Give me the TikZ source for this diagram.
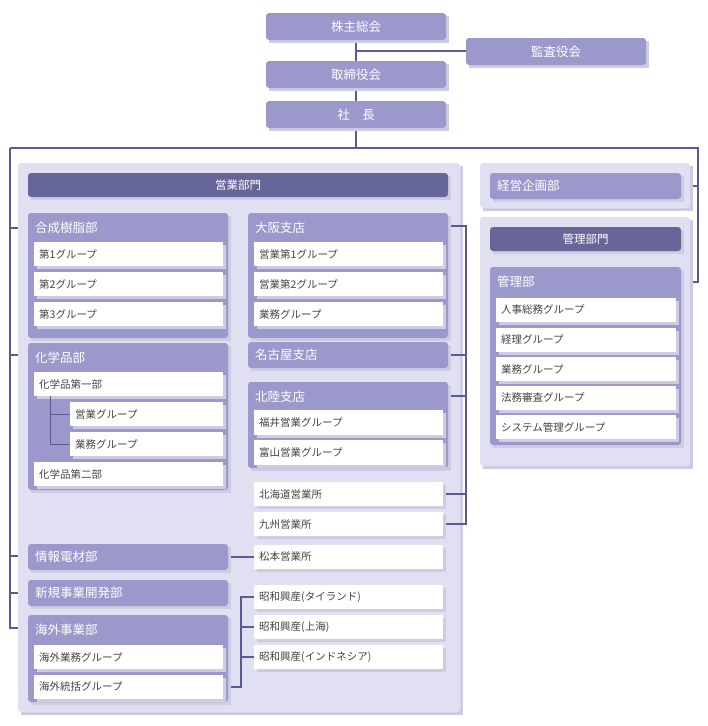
\documentclass[tikz,border=0pt]{standalone}
\usepackage{fontspec}
\setmainfont{Noto Sans CJK JP}
\definecolor{lav}{HTML}{9B99CB}
\definecolor{dark}{HTML}{676698}
\definecolor{pan}{HTML}{E0E0F2}
\definecolor{ln}{HTML}{5C5A94}
\definecolor{tx}{HTML}{444444}
\definecolor{shd}{HTML}{CDCCE2}
\tikzset{
 base/.style={anchor=north west,inner sep=0pt,outer sep=0pt},
 lavbox/.style={base,fill=lav,rounded corners=3pt},
 darkbox/.style={base,fill=dark,rounded corners=3pt},
 panel/.style={base,fill=pan,rounded corners=3pt},
 item/.style={base,fill=white},
 ttl/.style={anchor=west,text=white,font=\fontsize{12.5}{14}\selectfont,inner sep=0pt},
 itx/.style={anchor=west,text=tx,font=\fontsize{10.5}{12}\selectfont,inner sep=0pt},
 ctx/.style={text=white,font=\fontsize{12.5}{14}\selectfont,inner sep=0pt},
 conn/.style={draw=ln,line width=1.2pt}
}
\newcommand{\bx}[6]{%
 \fill[shd] ({#2+3},{#3+3}) rectangle ({#4+3},{#5+3});
 \node[#6,minimum width={(#4-#2)*1pt},minimum height={(#5-#3)*1pt}] (#1) at (#2,#3) {};}
\newcommand{\itm}[6]{% name x1 y1 x2 y2 text
 \bx{#1}{#2}{#3}{#4}{#5}{item}
 \node[itx] (#1t) at ({#2+5},{(#3+#5)/2}) {#6};}
\newcommand{\lb}[6]{% lavender box with title at ytitle
 \bx{#1}{#2}{#3}{#4}{#5}{lavbox}
 \node[ttl] (#1t) at ({#2+7},{#3+15}) {#6};}
\begin{document}
\begin{tikzpicture}[x=1pt,y=-1pt]
\useasboundingbox (0,0) rectangle (708,726);
% connectors behind
\draw[conn] (356,40) -- (356,148);
\draw[conn] (356,51) -- (470,51);
\draw[conn] (10,148) -- (698,148) -- (698,282) -- (681,282);
\draw[conn] (698,186) -- (681,186);
\draw[conn] (10,148) -- (10,628) -- (28,628);
\foreach \y in {228,355,556,593} \draw[conn] (10,\y) -- (28,\y);
% top boxes
\bx{kabu}{266}{13}{446}{40}{lavbox}\node[ctx] at (kabu) {株主総会};
\bx{kansa}{466}{38}{646}{65}{lavbox}\node[ctx] at (kansa) {監査役会};
\bx{tori}{266}{61}{446}{88}{lavbox}\node[ctx] at (tori) {取締役会};
\bx{sha}{266}{101}{446}{128}{lavbox}\node[ctx] at (sha) {社\quad 長};
% panels
\bx{pL}{18}{163}{460}{712}{panel}
\bx{pR1}{480}{163}{690}{208}{panel}
\bx{pR2}{480}{217}{690}{466}{panel}
\bx{eigyo}{28}{173}{448}{197}{darkbox}\node[ctx,font=\fontsize{11.5}{13}\selectfont] at (eigyo) {営業部門};
% inner connectors
\draw[conn] (448,226) -- (466,226) -- (466,524) -- (443,524);
\foreach \y in {355,396} \draw[conn] (448,\y) -- (466,\y);
\draw[conn] (443,494) -- (466,494);
\draw[conn] (228,557) -- (254,557);
\draw[conn] (223,687) -- (241,687) -- (241,597) -- (254,597);
\foreach \y in {627,657} \draw[conn] (241,\y) -- (254,\y);
% left column
\lb{gosei}{28}{213}{228}{338}{合成樹脂部}
\itm{g1}{34}{242}{223}{266}{第1グループ}
\itm{g2}{34}{272}{223}{296}{第2グループ}
\itm{g3}{34}{302}{223}{326}{第3グループ}
\lb{kagaku}{28}{343}{228}{490}{化学品部}
\itm{k1}{34}{372}{223}{396}{化学品第一部}
\draw[conn,line width=0.8pt] (50,396) -- (50,444) -- (70,444);
\draw[conn,line width=0.8pt] (50,414) -- (70,414);
\itm{k11}{70}{402}{223}{426}{営業グループ}
\itm{k12}{70}{432}{223}{456}{業務グループ}
\itm{k2}{34}{462}{223}{486}{化学品第二部}
\bx{joho}{28}{544}{228}{570}{lavbox}\node[ttl] at (35,557) {情報電材部};
\bx{shinki}{28}{580}{228}{606}{lavbox}\node[ttl] at (35,593) {新規事業開発部};
\lb{kaigai}{28}{615}{228}{702}{海外事業部}
\itm{ka1}{34}{645}{223}{669}{海外業務グループ}
\itm{ka2}{34}{675}{223}{699}{海外統括グループ}
% right column of sales
\lb{osaka}{248}{213}{448}{338}{大阪支店}
\itm{o1}{254}{242}{443}{266}{営業第1グループ}
\itm{o2}{254}{272}{443}{296}{営業第2グループ}
\itm{o3}{254}{302}{443}{326}{業務グループ}
\bx{nagoya}{248}{342}{448}{368}{lavbox}\node[ttl] at (255,355) {名古屋支店};
\lb{hoku}{248}{382}{448}{468}{北陸支店}
\itm{h1}{254}{410}{443}{435}{福井営業グループ}
\itm{h2}{254}{440}{443}{465}{富山営業グループ}
\itm{s1}{254}{482}{443}{506}{北海道営業所}
\itm{s2}{254}{512}{443}{536}{九州営業所}
\itm{s3}{254}{545}{443}{569}{松本営業所}
\itm{w1}{254}{585}{443}{609}{昭和興産(タイランド)}
\itm{w2}{254}{615}{443}{639}{昭和興産(上海)}
\itm{w3}{254}{645}{443}{669}{昭和興産(インドネシア)}
% right panels
\bx{keiei}{490}{173}{681}{199}{lavbox}\node[ttl] at (497,186) {経営企画部};
\bx{kanri}{490}{227}{681}{251}{darkbox}\node[ctx,font=\fontsize{11.5}{13}\selectfont] at (kanri) {管理部門};
\lb{kanribu}{490}{267}{681}{445}{管理部}
\itm{m1}{496}{298}{676}{322}{人事総務グループ}
\itm{m2}{496}{328}{676}{352}{経理グループ}
\itm{m3}{496}{357}{676}{381}{業務グループ}
\itm{m4}{496}{386}{676}{410}{法務審査グループ}
\itm{m5}{496}{415}{676}{439}{システム管理グループ}
\end{tikzpicture}
\end{document}
